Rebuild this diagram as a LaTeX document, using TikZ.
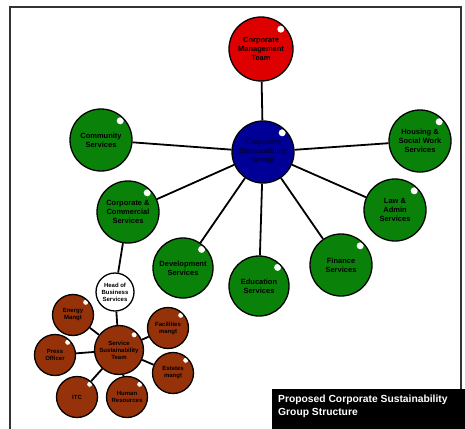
\documentclass[tikz,border=0pt]{standalone}
\usepackage{fontspec}
\setmainfont{Liberation Sans}
\usetikzlibrary{calc,backgrounds}
\definecolor{redball}{RGB}{222,0,0}
\definecolor{blueball}{RGB}{0,0,150}
\definecolor{greenball}{RGB}{10,130,10}
\definecolor{brownball}{RGB}{150,50,10}
\definecolor{bluetext}{RGB}{0,0,60}
\tikzset{
  ball/.style={circle, draw=black, line width=1.3pt, inner sep=0pt, align=center,
    font=\bfseries\fontsize{7.5}{9}\selectfont,
    path picture={\fill[white] ($(path picture bounding box.center)!0.62!(path picture bounding box.north east)$) circle (#1);}},
  bigball/.style={ball=3.5pt, minimum size=62pt},
  smallball/.style={ball=2.5pt, minimum size=41pt, fill=brownball,
    font=\bfseries\fontsize{6}{7}\selectfont},
  link/.style={line width=1.8pt},
}
\begin{document}
\begin{tikzpicture}[x=1pt, y=-1pt]
\useasboundingbox (0,0) rectangle (465,428);
\draw [line width=1.5pt, black!80] (10,440) -- (10,7) -- (461,7) -- (461,440);
\node [bigball, fill=redball, minimum size=64pt] (cmt) at (261,49) {Corporate\\Management\\Team};
\node [bigball, fill=blueball, text=bluetext] (csg) at (263,152) {Corporate\\Sustainability\\Group};
\node [bigball, fill=greenball] (comm) at (101,140) {Community\\Services};
\node [bigball, fill=greenball] (hsw) at (420,141) {Housing \&\\Social Work\\Services};
\node [bigball, fill=greenball] (law) at (395,210) {Law \&\\Admin\\Services};
\node [bigball, fill=greenball] (ccs) at (128,212) {Corporate \&\\Commercial\\Services};
\node [bigball, fill=greenball, minimum size=60pt] (dev) at (183,268) {Development\\Services};
\node [bigball, fill=greenball, minimum size=60pt] (edu) at (259,286) {Education\\Services};
\node [bigball, fill=greenball] (fin) at (341,265) {Finance\\Services};
\node [ball=2pt, fill=white, minimum size=38pt, font=\bfseries\fontsize{6}{7}\selectfont] (hbs) at (115,292) {Head of\\Business\\Services};
\node [smallball, minimum size=49pt] (sst) at (119,350) {Service\\Sustainability\\Team};
\node [smallball] (energy) at (73,315) {Energy\\Mangt};
\node [smallball] (facil) at (168,328) {Facilities\\mangt};
\node [smallball] (press) at (55,355) {Press\\Officer};
\node [smallball] (estates) at (173,373) {Estates\\mangt};
\node [smallball] (itc) at (77,397) {ITC};
\node [smallball] (hr) at (127,397) {Human\\Resources};
\begin{scope}[on background layer]
\draw [link] (csg) -- (cmt);
\draw [link] (csg) -- (comm);
\draw [link] (csg) -- (hsw);
\draw [link] (csg) -- (law);
\draw [link] (csg) -- (ccs);
\draw [link] (csg) -- (dev);
\draw [link] (csg) -- (edu);
\draw [link] (csg) -- (fin);
\draw [link] (ccs) -- (hbs);
\draw [link] (hbs) -- (sst);
\draw [link] (sst) -- (energy);
\draw [link] (sst) -- (facil);
\draw [link] (sst) -- (press);
\draw [link] (sst) -- (estates);
\draw [link] (sst) -- (itc);
\draw [link] (sst) -- (hr);
\end{scope}
\fill [black] (272,389) rectangle (470,432);
\node [anchor=north west, text=white, align=left, inner sep=0pt,
  font=\bfseries\fontsize{10.3}{12.5}\selectfont] (title) at (278,395) {Proposed Corporate Sustainability\\Group Structure};
\end{tikzpicture}
\end{document}
